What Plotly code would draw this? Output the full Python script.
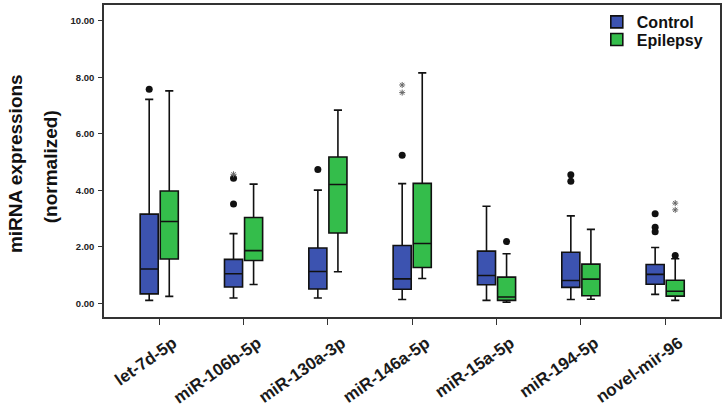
import plotly.graph_objects as go

categories = ["let-7d-5p", "miR-106b-5p", "miR-130a-3p", "miR-146a-5p",
              "miR-15a-5p", "miR-194-5p", "novel-mir-96"]
y_ticks = [0, 2, 4, 6, 8, 10]
y_tick_labels = ["0.00", "2.00", "4.00", "6.00", "8.00", "10.00"]

control_low = [0.11, 0.19, 0.19, 0.14, 0.11, 0.14, 0.32]
control_q1 = [0.34, 0.58, 0.51, 0.50, 0.66, 0.57, 0.68]
control_median = [1.22, 1.05, 1.13, 0.87, 0.99, 0.81, 1.03]
control_q3 = [3.16, 1.56, 1.96, 2.05, 1.85, 1.81, 1.38]
control_high = [7.22, 2.47, 4.01, 4.24, 3.44, 3.10, 1.98]

epilepsy_low = [0.25, 0.67, 1.12, 0.88, 0.04, 0.15, 0.11]
epilepsy_q1 = [1.57, 1.52, 2.49, 1.27, 0.11, 0.27, 0.26]
epilepsy_median = [2.90, 1.87, 4.21, 2.12, 0.23, 0.86, 0.43]
epilepsy_q3 = [3.98, 3.04, 5.18, 4.25, 0.93, 1.39, 0.82]
epilepsy_high = [7.52, 4.22, 6.84, 8.16, 1.76, 2.62, 1.58]

# outliers: category index and value
control_dot_cat = [0, 1, 1, 2, 3, 5, 5, 6, 6, 6]
control_dot_val = [7.58, 4.43, 3.52, 4.74, 5.24, 4.55, 4.32, 3.17, 2.70, 2.54]
control_star_cat = [1, 3, 3]
control_star_val = [4.57, 7.73, 7.46]
epilepsy_dot_cat = [4, 6]
epilepsy_dot_val = [2.19, 1.70]
epilepsy_star_cat = [6, 6]
epilepsy_star_val = [3.55, 3.31]

BLUE = "#3c53b0"
GREEN = "#34bd4b"
BOXGAP = 0.524
BOXGROUPGAP = 0.1
offset = 0.25 * (1 - BOXGAP)
FONT = "Liberation Sans, Arial, sans-serif"

pos = list(range(len(categories)))

fig = go.Figure()
fig.add_trace(go.Box(
    name="Control", x=pos, q1=control_q1, median=control_median, q3=control_q3,
    lowerfence=control_low, upperfence=control_high, boxpoints=False,
    fillcolor=BLUE, line=dict(color="#111111", width=1.6), whiskerwidth=0.45,
    hoverinfo="skip", legend="legend"))
fig.add_trace(go.Box(
    name="Epilepsy", x=pos, q1=epilepsy_q1, median=epilepsy_median, q3=epilepsy_q3,
    lowerfence=epilepsy_low, upperfence=epilepsy_high, boxpoints=False,
    fillcolor=GREEN, line=dict(color="#111111", width=1.6), whiskerwidth=0.45,
    hoverinfo="skip", legend="legend2"))

def add_points(cats, vals, shift, symbol):
    xs = [c + shift for c in cats]
    if symbol == "dot":
        marker = dict(symbol="circle", size=7, color="#111111")
    else:
        marker = dict(symbol="asterisk-open", size=5, color="#666666",
                      line=dict(color="#666666", width=1))
    fig.add_trace(go.Scatter(x=xs, y=vals, mode="markers", marker=marker,
                             showlegend=False, hoverinfo="skip"))

add_points(control_dot_cat, control_dot_val, -offset, "dot")
add_points(control_star_cat, control_star_val, -offset, "star")
add_points(epilepsy_dot_cat, epilepsy_dot_val, offset, "dot")
add_points(epilepsy_star_cat, epilepsy_star_val, offset, "star")

legend_font = dict(size=16, family=FONT, weight="bold", color="#111111")
LEG_X = 0.80
fig.update_layout(
    width=726, height=410,
    margin=dict(l=104, r=6, t=5, b=93, autoexpand=False),
    paper_bgcolor="white", plot_bgcolor="white",
    boxmode="group", boxgap=BOXGAP, boxgroupgap=BOXGROUPGAP,
    font=dict(family=FONT, color="#111111"),
    legend=dict(x=LEG_X, y=1.0, xanchor="left", yanchor="top",
                font=legend_font, bgcolor="rgba(0,0,0,0)"),
    legend2=dict(x=LEG_X, y=1.0 - 17.6 / 312, xanchor="left", yanchor="top",
                 font=legend_font, bgcolor="rgba(0,0,0,0)"),
    xaxis=dict(range=[-0.655, 6.65], tickmode="array", tickvals=pos,
               ticktext=categories, tickangle=-35, showgrid=False, zeroline=False,
               showline=True, mirror=True, linecolor="#333333", linewidth=1.5,
               ticks="outside", ticklen=6, tickcolor="#333333", tickwidth=1.2,
               ticklabelstandoff=2, ticklabelshift=14, automargin=False,
               tickfont=dict(size=17, family=FONT, weight="bold", color="#1a1a1a")),
    yaxis=dict(range=[-0.48, 10.56], tickmode="array", tickvals=y_ticks,
               ticktext=y_tick_labels, showgrid=False, zeroline=False,
               showline=True, mirror=True, linecolor="#333333", linewidth=1.5,
               ticks="outside", ticklen=4, tickcolor="#333333", tickwidth=1.2,
               ticklabelstandoff=2, automargin=False,
               tickfont=dict(size=9.5, family=FONT, weight="bold", color="#222222")),
)

fig.add_annotation(text="miRNA expressions", xref="paper", yref="paper",
                   x=(15 - 104) / 616, y=0.49, xanchor="center", yanchor="middle",
                   textangle=-90, showarrow=False,
                   font=dict(size=19, family=FONT, weight="bold", color="#111111"))
fig.add_annotation(text="(normalized)", xref="paper", yref="paper",
                   x=(50 - 104) / 616, y=0.48, xanchor="center", yanchor="middle",
                   textangle=-90, showarrow=False,
                   font=dict(size=19, family=FONT, weight="bold", color="#111111"))

fig.write_html("out.html", config={"displayModeBar": False},
               post_script="document.body.style.margin='0';document.body.style.overflow='hidden';")
